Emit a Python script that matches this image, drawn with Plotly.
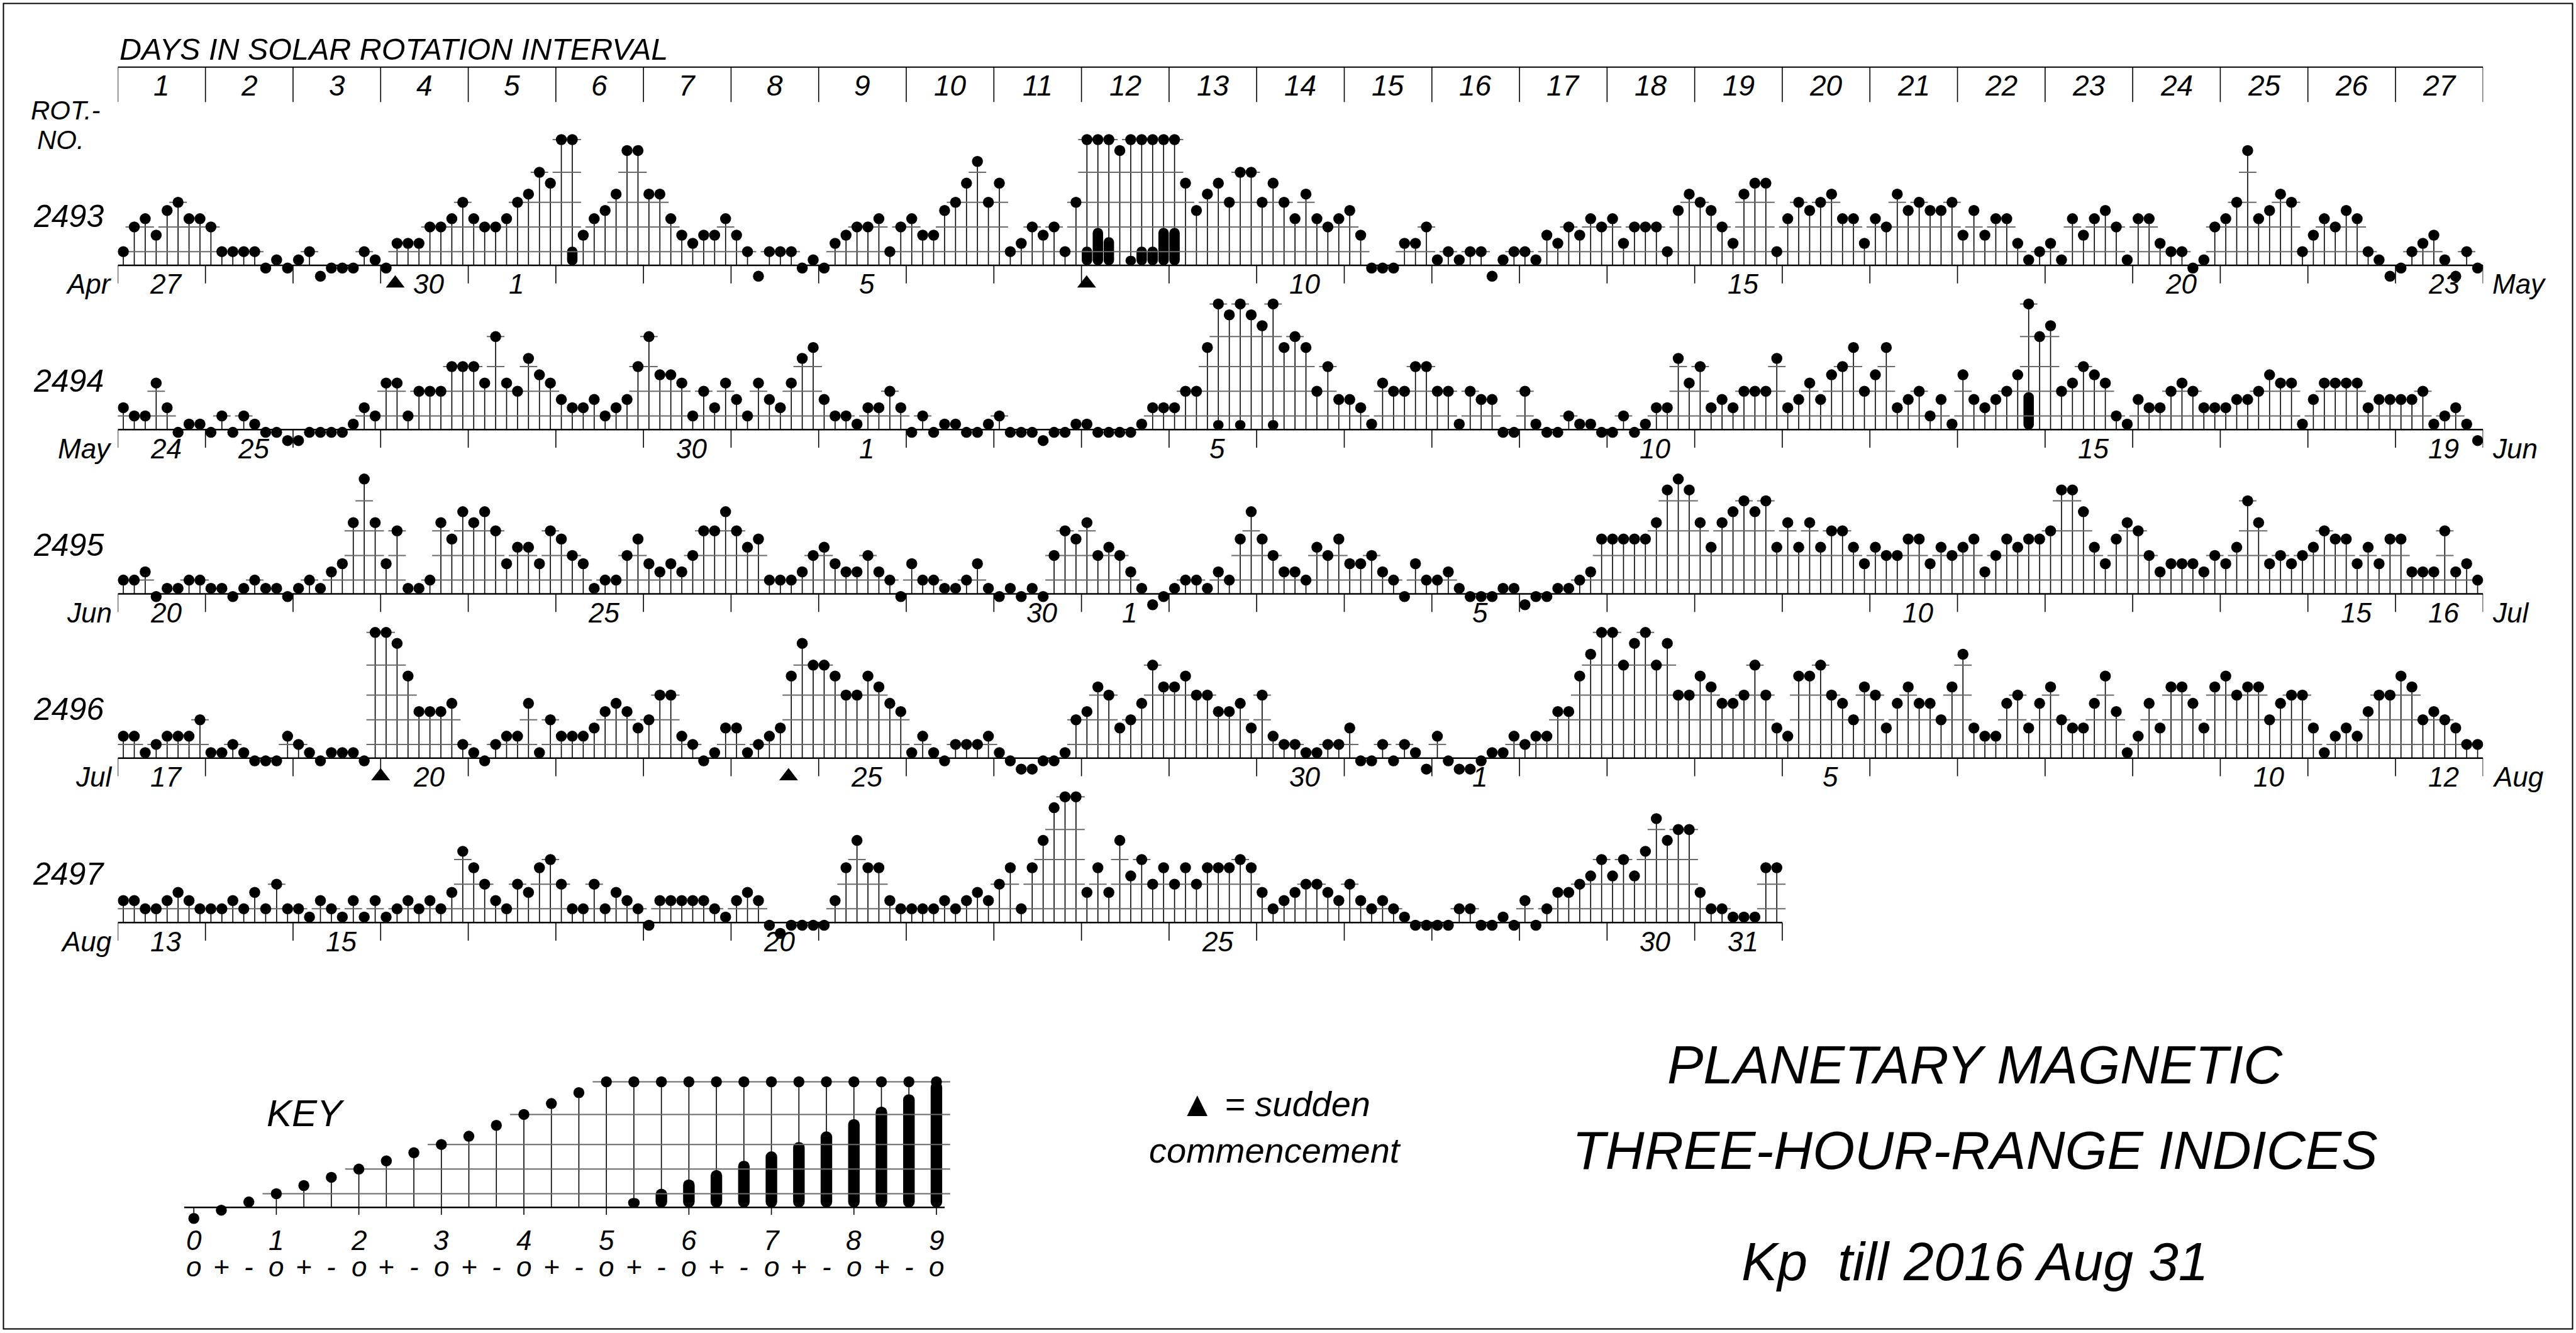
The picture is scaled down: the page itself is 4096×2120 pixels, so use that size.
import plotly.graph_objects as go
import pandas as pd

# ---------------- data ----------------
ROTATIONS = [2493, 2494, 2495, 2496, 2497]
FIRST_DAY = "2016-04-27"

KP_2493 = [
    "1o 2o 2+ 2- 3- 3o 2+ 2+", "2o 1o 1o 1o 1o 0+ 1- 0+", "1- 1o 0o 0+ 0+ 0+ 1o 1-",
    "0+ 1+ 1+ 1+ 2o 2o 2+ 3o", "2+ 2o 2o 2+ 3o 3+ 4o 4-", "5o 6- 2- 2+ 3- 3+ 5- 5-",
    "3+ 3+ 2+ 2- 1+ 2- 2- 2+", "2- 1o 0o 1o 1o 1o 0+ 1-", "0+ 1+ 2- 2o 2o 2+ 1o 2o",
    "2+ 2- 2- 3- 3o 4- 4+ 3o", "4- 1o 1+ 2o 2- 2o 1o 3o", "6- 6+ 6o 5- 5+ 6- 6- 6+",
    "6+ 4- 3- 3+ 4- 3o 4o 4o", "3o 4- 3o 2+ 3+ 2+ 2o 2+", "3- 2- 0+ 0+ 0+ 1+ 1+ 2o",
    "1- 1o 1- 1o 1o 0o 1- 1o", "1o 1- 2- 1+ 2o 2- 2+ 2o", "2+ 1+ 2o 2o 2o 1o 3- 3+",
    "3o 3- 2o 1+ 3+ 4- 4- 1o", "2+ 3o 3- 3o 3+ 2+ 2+ 1+", "2+ 2o 3+ 3- 3o 3- 3- 3o",
    "2- 3- 2- 2+ 2+ 1+ 1- 1o", "1+ 1- 2+ 2- 2+ 3- 2o 1-", "2+ 2+ 1+ 1o 1o 0+ 1- 2o",
    "2+ 3o 5- 2+ 3- 3+ 3o 1o", "2- 2+ 2o 3- 2+ 1o 1- 0o", "0+ 1o 1+ 2- 1- 0o 1o 0+",
]
KP_2494 = [
    "1+ 1o 1o 2+ 1+ 0+ 1- 1-", "0+ 1o 0+ 1o 1- 0+ 0+ 0o", "0o 0+ 0+ 0+ 0+ 1- 1+ 1o",
    "2+ 2+ 1o 2o 2o 2o 3o 3o", "3o 2+ 4o 2+ 2o 3+ 3- 2+", "2- 1+ 1+ 2- 1o 1+ 2- 3o",
    "4o 3- 3- 2+ 1o 2o 1+ 2+", "2- 1o 2+ 2- 1+ 2+ 3+ 4-", "2- 1o 1o 1- 1+ 1+ 2o 1+",
    "0+ 1o 0+ 1- 1- 0+ 0+ 1-", "1o 0+ 0+ 0+ 0o 0+ 0+ 1-", "1- 0+ 0+ 0+ 0+ 1- 1+ 1+",
    "1+ 2o 2o 4- 5+ 5- 5+ 5-", "4+ 5+ 4- 4o 4- 2o 3o 2-", "2- 1+ 1- 2+ 2o 2o 3o 3o",
    "2o 2o 1- 2o 2- 2- 0+ 0+", "2o 1- 0+ 0+ 1o 1- 1- 0+", "0+ 1o 0+ 1- 1+ 1+ 3+ 2+",
    "3o 1+ 2- 1+ 2o 2o 2o 3+", "1+ 2- 2+ 2- 3- 3o 4- 2o", "3- 4- 1+ 2- 2o 1o 2- 1-",
    "3- 2- 1+ 2- 2o 3- 6+ 4o", "4+ 2o 2+ 3o 3- 2+ 1o 1-", "2- 1+ 1+ 2o 2+ 2o 1+ 1+",
    "1+ 2- 2- 2o 3- 2+ 2+ 1-", "2- 2+ 2+ 2+ 2+ 1+ 2- 2-", "2- 2- 2o 1- 1o 1+ 1- 0o",
]
KP_2495 = [
    "1o 1o 1+ 0+ 1- 1- 1o 1o", "1- 1- 0+ 1- 1o 1- 1- 0+", "1- 1o 1- 1+ 2- 3+ 5- 3+",
    "2- 3o 1- 1- 1o 3+ 3- 4-", "3+ 4- 3o 2- 2+ 2+ 2- 3o", "3- 2o 2- 1- 1o 1o 2o 3-",
    "2- 1+ 2- 1+ 2o 3o 3o 4-", "3o 2+ 3- 1o 1o 1o 1+ 2o", "2+ 2- 1+ 1+ 2o 1+ 1o 0+",
    "2- 1o 1o 1- 1- 1o 2- 1-", "0+ 1- 0+ 1- 0+ 2o 3o 3-", "3+ 2o 2+ 2o 1+ 1- 0o 0+",
    "1- 1o 1o 1- 1+ 1o 3- 4-", "3- 2o 1+ 1+ 1o 2+ 2o 3-", "2- 2- 2o 1+ 1o 0+ 2- 1o",
    "1o 1+ 1- 0+ 0+ 0+ 1- 1-", "0o 0+ 0+ 1- 1- 1o 1+ 3-", "3- 3- 3- 3- 3+ 4+ 5- 4+",
    "3+ 2+ 3+ 4- 4o 4- 4o 2+", "3+ 2+ 3+ 2+ 3o 3o 2+ 2-", "2+ 2o 2o 3- 3- 2- 2+ 2o",
    "2+ 3- 1+ 2o 3- 2+ 3- 3-", "3o 4+ 4+ 4- 2+ 2- 3- 3+", "3o 2o 1+ 2- 2- 2- 1+ 2o",
    "2- 2+ 4o 3+ 2- 2o 2- 2o", "2+ 3o 3- 3- 2- 2+ 2- 3-", "3- 1+ 1+ 1+ 3o 1+ 2- 1o",
]
KP_2496 = [
    "1+ 1+ 1- 1o 1+ 1+ 1+ 2o", "1- 1- 1o 1- 0+ 0+ 0+ 1+", "1o 1- 0+ 1- 1- 1- 0+ 5o",
    "5o 5- 4- 2+ 2+ 2+ 3- 1o", "1- 0+ 1o 1+ 1+ 3- 1- 2o", "1+ 1+ 1+ 2- 2+ 3- 2+ 2-",
    "2o 3o 3o 1+ 1o 0+ 1- 2-", "2- 1- 1o 1+ 2- 4- 5- 4o", "4o 4- 3o 3o 4- 3+ 3- 2+",
    "1- 1+ 1- 0+ 1o 1o 1o 1+", "1- 0+ 0o 0o 0+ 0+ 1- 2o", "2+ 3+ 3o 2- 2o 3- 4o 3+",
    "3+ 4- 3o 3o 2+ 2+ 3- 2-", "3o 1+ 1o 1o 1- 1- 1o 1o", "2- 0+ 0+ 1o 0+ 1o 1- 0o",
    "1+ 0+ 0o 0o 0+ 1- 1- 1+", "1o 1+ 1+ 2+ 2+ 4- 4+ 5o", "5o 4o 5- 5o 4o 5- 3o 3o",
    "4- 3+ 3- 3- 3o 4o 3o 2-", "1+ 4- 4- 4o 3o 3- 2o 3+", "3o 2- 3- 3+ 3- 3- 2o 3+",
    "4+ 2- 1+ 1+ 3- 3o 2- 3-", "3+ 2o 2- 2- 3- 4- 2+ 1-", "1+ 3- 2- 3+ 3+ 3- 2- 3+",
    "4- 3o 3+ 3+ 2o 3- 3o 3o", "2- 1- 1+ 2- 1+ 2+ 3o 3o", "4- 3+ 2o 2+ 2o 2- 1o 1o",
]
KP_2497 = [
    "1+ 1+ 1o 1o 1+ 2- 1+ 1o", "1o 1o 1+ 1o 2- 1o 2o 1o", "1o 1- 1+ 1o 1- 1+ 1- 1+",
    "1- 1o 1+ 1o 1+ 1o 2- 3+", "3- 2o 1+ 1o 2o 2- 3- 3o", "2o 1o 1o 2o 1o 2- 1+ 1o",
    "0+ 1+ 1+ 1+ 1+ 1+ 1o 1-", "1+ 2- 1+ 0+ 0o 0+ 0+ 0+", "0+ 1+ 3- 4- 3- 3- 1+ 1o",
    "1o 1o 1o 1+ 1o 1+ 2- 1+", "2o 3- 1o 3- 4- 5- 5o 5o", "2- 3- 2- 4- 2+ 3o 2o 3-",
    "2o 3- 2o 3- 3- 3- 3o 3-", "2- 1o 1+ 2- 2o 2o 2- 1+", "2o 1+ 1o 1+ 1o 1- 0+ 0+",
    "0+ 0+ 1o 1o 0+ 0+ 1- 0+", "1+ 0+ 1o 2- 2- 2o 2+ 3o", "2+ 3o 2+ 3+ 4+ 4- 4o 4o",
    "2- 1o 1o 1- 1- 1- 3- 3-",
]
KP_ROWS = [KP_2493, KP_2494, KP_2495, KP_2496, KP_2497]
SSC_TIMES = ["2016-04-30 04:00", "2016-05-08 01:25", "2016-07-20 00:00", "2016-07-24 15:45"]
TITLE_LINES = ["PLANETARY MAGNETIC", "THREE-HOUR-RANGE INDICES", "Kp  till 2016 Aug 31"]
HEADER_TEXT = "DAYS IN SOLAR ROTATION INTERVAL"
ROT_TEXT = ["ROT.-", "NO."]
SSC_TEXT = ["\u25B2 = sudden", "commencement"]
KEY_SUFFIX = ["o", "+", "-"]

# ---------------- geometry (reference pixel frame) ----------------
W, H = 4096, 2120
RW, RH = 4492.0, 2325.0
FONT = "Liberation Sans, Arial, Helvetica, sans-serif"


def px(x):
    return x / RW


def py(y):
    return 1 - y / RH


X0, X1 = 205.5, 4330.0
ROW_BASE = [462.7, 749.3, 1035.7, 1322.3, 1609.0]
PPH = 14.33
BASE_H = 4.0 / 3.0
YR = (-1.6, 18.0)
SLOT = 1.0 / 8.0


def code_to_k(c):
    return 3 * int(c[0]) + {"o": 0, "+": 1, "-": -1}[c[1]]


def hgt(k):
    k = min(k, 15)
    return float(k) if k <= 10 else 10 + (k - 10) * 57.0 / 43.0


def bar_top(k):
    # excess above 5o drawn as a black bar; 12 thirds of excess reach the 5o level
    return hgt(BASE_H + (15 - BASE_H) * (k - 15) / 12.0)


def ydomain(B):
    return [py(B + (BASE_H - YR[0]) * PPH), py(B - (YR[1] - BASE_H) * PPH)]


fig = go.Figure()
annotations, shapes = [], []
layout_axes = {}

STEM_W = 1.6
STAFF_W = 2.0
DOT = 17.5
STAFF_C = "#6a6a6a"


def txt(x, y, s, size, xanchor="center", xref="paper", yref="paper"):
    return dict(xref=xref, yref=yref, x=x, y=y, text=s, showarrow=False, xanchor=xanchor,
                yanchor="middle", font=dict(family=FONT, size=size, color="black", style="italic"))


def add_diagram(xs, ks, xa, ya, ext, barw):
    sx, sy = [], []
    for x, k in zip(xs, ks):
        if k >= 2:
            sx += [x, x, None]
            sy += [BASE_H, hgt(k), None]
    fig.add_trace(go.Scatter(x=sx, y=sy, mode="lines", line=dict(color="black", width=STEM_W),
                             xaxis=xa, yaxis=ya, hoverinfo="skip", showlegend=False))
    lx, ly = [], []
    n = len(ks)
    for L in (3, 6, 9, 12, 15):
        i = 0
        while i < n:
            if ks[i] >= L:
                j = i
                while j + 1 < n and ks[j + 1] >= L:
                    j += 1
                lx += [xs[i] - ext, xs[j] + ext, None]
                ly += [hgt(L), hgt(L), None]
                i = j + 1
            else:
                i += 1
    fig.add_trace(go.Scatter(x=lx, y=ly, mode="lines", line=dict(color=STAFF_C, width=STAFF_W),
                             xaxis=xa, yaxis=ya, hoverinfo="skip", showlegend=False))
    bx = [x for x, k in zip(xs, ks) if k > 15]
    by = [bar_top(k) - BASE_H for k in ks if k > 15]
    if bx:
        fig.add_trace(go.Bar(x=bx, y=by, base=BASE_H, width=barw,
                             marker=dict(color="black", line=dict(width=0), cornerradius="50%"),
                             xaxis=xa, yaxis=ya, hoverinfo="skip", showlegend=False))
    fig.add_trace(go.Scatter(x=xs, y=[hgt(k) for k in ks], mode="markers",
                             marker=dict(color="black", size=DOT, line=dict(width=0)),
                             xaxis=xa, yaxis=ya, hoverinfo="skip", showlegend=False))


n_days = sum(len(r) for r in KP_ROWS)
dates = pd.date_range(FIRST_DAY, periods=n_days, freq="D")
start = 0
DATE_FS = 44
for r, (rot, days) in enumerate(zip(ROTATIONS, KP_ROWS)):
    sfx = "" if r == 0 else str(r + 1)
    xa, ya = "x" + sfx, "y" + sfx
    B = ROW_BASE[r]
    layout_axes["xaxis" + sfx] = dict(domain=[px(X0), px(X1)], range=[0, 27], visible=False,
                                      fixedrange=True, anchor=ya)
    layout_axes["yaxis" + sfx] = dict(domain=ydomain(B), range=list(YR), visible=False,
                                      fixedrange=True, anchor=xa)
    ks = [code_to_k(c) for d in days for c in d.split()]
    xs = [i // 8 + (i % 8 + 0.5) * SLOT for i in range(len(ks))]
    add_diagram(xs, ks, xa, ya, 0.8 * SLOT, 0.95 * SLOT)
    nd = len(days)
    shapes.append(dict(type="line", xref=xa, yref=ya, x0=0, x1=nd, y0=BASE_H, y1=BASE_H,
                       line=dict(color="black", width=2.5)))
    for d in range(nd + 1):
        shapes.append(dict(type="line", xref=xa, yref=ya, x0=d, x1=d, y0=BASE_H, y1=BASE_H - 2.2,
                           line=dict(color="black", width=1.6)))
    row_dates = dates[start:start + nd]
    ylab = BASE_H - 33 / PPH
    for j, dt in enumerate(row_dates):
        if j == 0 or j == nd - 1 or dt.day == 1 or dt.day % 5 == 0:
            annotations.append(txt(j + 0.55, ylab, str(dt.day), DATE_FS, xref=xa, yref=ya))
    annotations.append(txt(px(X0 - 8), py(B + 33), row_dates[0].strftime("%b"), DATE_FS, xanchor="right"))
    if nd == 27:
        annotations.append(txt(px(X1 + 14), py(B + 33), row_dates[-1].strftime("%b"), DATE_FS, xanchor="left"))
    annotations.append(txt(px(120), py(B - 85), str(rot), 50))
    tx, ty = [], []
    for t in SSC_TIMES:
        off = (pd.Timestamp(t) - dates[0]) / pd.Timedelta(days=1)
        if start <= off < start + nd:
            tx.append(off - start)
            ty.append(ylab + 0.1)
    if tx:
        fig.add_trace(go.Scatter(x=tx, y=ty, mode="markers", xaxis=xa, yaxis=ya,
                                 marker=dict(symbol="triangle-up", size=26, color="black"),
                                 hoverinfo="skip", showlegend=False))
    start += nd

# ---------------- header ----------------
HY0, HY1 = 117, 178
shapes.append(dict(type="line", xref="x", yref="paper", x0=0, x1=27, y0=py(HY0), y1=py(HY0),
                   line=dict(color="black", width=2)))
for d in range(28):
    shapes.append(dict(type="line", xref="x", yref="paper", x0=d, x1=d, y0=py(HY0), y1=py(HY1),
                       line=dict(color="black", width=1.6)))
for d in range(1, 28):
    annotations.append(txt(d - 0.5, py(149), str(d), 46, xref="x"))
annotations.append(txt(px(206), py(86), HEADER_TEXT, 48.5, xanchor="left"))
annotations.append(txt(px(52), py(193), ROT_TEXT[0], 42, xanchor="left"))
annotations.append(txt(px(62), py(244), ROT_TEXT[1], 42, xanchor="left"))

# ---------------- key ----------------
KX0, KDX, KB = 338.0, 47.96, 2106.0
layout_axes["xaxis6"] = dict(domain=[px(KX0 - KDX), px(KX0 + 28 * KDX)], range=[-1, 28], visible=False,
                             fixedrange=True, anchor="y6")
layout_axes["yaxis6"] = dict(domain=ydomain(KB), range=list(YR), visible=False, fixedrange=True, anchor="x6")
key_codes = []
for n in range(10):
    key_codes.append(f"{n}o")
    if n < 9:
        key_codes += [f"{n}+", f"{n + 1}-"]
kk = [code_to_k(c) for c in key_codes]
add_diagram([float(k) for k in kk], kk, "x6", "y6", 0.5, 0.42)
shapes.append(dict(type="line", xref="x6", yref="y6", x0=-0.35, x1=27.3, y0=BASE_H, y1=BASE_H,
                   line=dict(color="black", width=2.5)))
for n in range(10):
    shapes.append(dict(type="line", xref="x6", yref="y6", x0=3 * n, x1=3 * n, y0=BASE_H, y1=BASE_H - 0.9,
                       line=dict(color="black", width=1.6)))
    annotations.append(txt(3 * n, py(2163), str(n), 44, xref="x6"))
for k in kk:
    annotations.append(txt(k, py(2209), KEY_SUFFIX[k % 3], 44, xref="x6"))
annotations.append(txt(px(533), py(1942), "KEY", 60))

# ---------------- titles ----------------
for s, yy in zip(SSC_TEXT, [1925, 2006]):
    annotations.append(txt(px(2224), py(yy), s, 56))
for s, yy in zip(TITLE_LINES, [1857, 2006, 2200]):
    annotations.append(txt(px(3444), py(yy), s, 86))

shapes.append(dict(type="rect", xref="paper", yref="paper", x0=px(6), x1=px(4486), y0=py(2318), y1=py(6),
                   line=dict(color="black", width=2), fillcolor="rgba(0,0,0,0)"))

fig.update_layout(width=W, height=H, autosize=False, margin=dict(l=0, r=0, t=0, b=0),
                  paper_bgcolor="white", plot_bgcolor="rgba(0,0,0,0)", showlegend=False,
                  barmode="overlay", annotations=annotations, shapes=shapes, **layout_axes)
fig.write_html("out.html", include_plotlyjs=True, config={"displayModeBar": False})
